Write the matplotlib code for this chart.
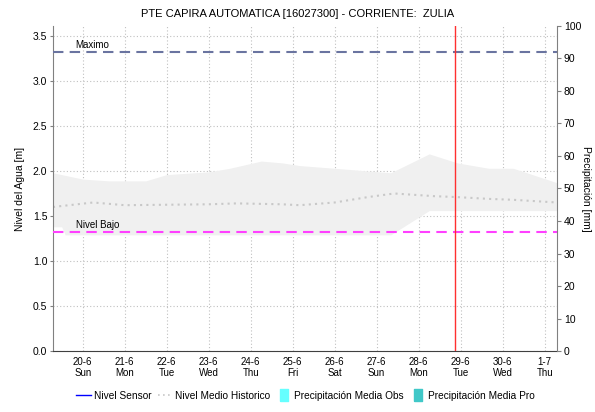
import matplotlib
matplotlib.use('Agg')
import matplotlib.pyplot as plt
from matplotlib.lines import Line2D
import pandas as pd

plt.rcParams['font.family'] = ['Liberation Sans', 'DejaVu Sans']

# historical level band (min / max) and mean level
band_upper_t = ['2021-06-19 07:00', '2021-06-20 00:00', '2021-06-20 15:00', '2021-06-21 12:00',
                '2021-06-22 00:00', '2021-06-23 00:00', '2021-06-23 12:00', '2021-06-24 06:00',
                '2021-06-24 18:00', '2021-06-25 04:00', '2021-06-26 00:00', '2021-06-27 08:00',
                '2021-06-28 06:00', '2021-06-28 22:00', '2021-06-29 16:00', '2021-06-30 06:00',
                '2021-07-01 07:00']
band_upper = [1.98, 1.91, 1.89, 1.89, 1.96, 1.99, 2.03, 2.11, 2.09, 2.06, 2.03, 1.98,
              2.19, 2.09, 2.03, 2.03, 1.87]

band_lower_t = ['2021-06-19 07:00', '2021-06-19 12:00', '2021-06-19 14:00', '2021-06-27 08:00',
                '2021-06-28 06:00', '2021-07-01 07:00']
band_lower = [1.38, 1.38, 1.29, 1.29, 1.56, 1.56]

medio_t = ['2021-06-19 07:00', '2021-06-20 06:00', '2021-06-21 00:00', '2021-06-23 00:00',
           '2021-06-23 16:00', '2021-06-24 18:00', '2021-06-25 04:00', '2021-06-26 00:00',
           '2021-06-26 19:00', '2021-06-27 10:00', '2021-06-28 09:00', '2021-06-28 22:00',
           '2021-06-29 16:00', '2021-06-30 06:00', '2021-07-01 07:00']
medio = [1.60, 1.65, 1.62, 1.63, 1.64, 1.63, 1.62, 1.65, 1.71, 1.75, 1.72, 1.71,
         1.69, 1.68, 1.65]

nivel_maximo = 3.32
nivel_bajo = 1.32
ahora = '2021-06-28 21:00'

x_start, x_end = '2021-06-19 07:00', '2021-07-01 07:00'
day_ticks = pd.date_range('2021-06-20', '2021-07-01', freq='D')
day_names = ['Sun', 'Mon', 'Tue', 'Wed', 'Thu', 'Fri', 'Sat', 'Sun', 'Mon', 'Tue', 'Wed', 'Thu']

fig = plt.figure(figsize=(5.95, 4.12), dpi=100)
ax = fig.add_axes([0.089, 0.148, 0.847, 0.789])

# band
ub = pd.Series(band_upper, index=pd.to_datetime(band_upper_t))
lb = pd.Series(band_lower, index=pd.to_datetime(band_lower_t))
grid_t = ub.index.union(lb.index)
ub_i = ub.reindex(grid_t).interpolate(method='time')
lb_i = lb.reindex(grid_t).interpolate(method='time')
ax.fill_between(grid_t, lb_i.values, ub_i.values, color='#f0f0f0', lw=0, zorder=1)

ax.plot(pd.to_datetime(medio_t), medio, color='#c8c8c8', lw=1.5, ls=(0, (1, 2)), zorder=2)

ax.axhline(nivel_maximo, color='#6a74a0', lw=1.5, ls=(0, (5, 3)), zorder=3)
ax.axhline(nivel_bajo, color='#ff40ff', lw=1.5, ls=(0, (5, 3)), zorder=3)
ax.axvline(pd.Timestamp(ahora), color='#ff3030', lw=1.0, zorder=4)

ax.text(pd.Timestamp('2021-06-19 20:00'), nivel_maximo + 0.02, 'Maximo', fontsize=7, va='bottom')
ax.text(pd.Timestamp('2021-06-19 20:00'), nivel_bajo + 0.02, 'Nivel Bajo', fontsize=7, va='bottom')

ax.set_xlim(pd.Timestamp(x_start), pd.Timestamp(x_end))
ax.set_ylim(0, 3.611)
ax.set_yticks([0, 0.5, 1.0, 1.5, 2.0, 2.5, 3.0, 3.5])
ax.set_yticklabels(['0.0', '0.5', '1.0', '1.5', '2.0', '2.5', '3.0', '3.5'], fontsize=7.5)
ax.set_xticks(day_ticks)
ax.set_xticklabels([f'{d.day}-{d.month}\n{n}' for d, n in zip(day_ticks, day_names)], fontsize=7)
ax.tick_params(axis='y', length=2, color='#808080', pad=2)
ax.tick_params(axis='x', length=0, pad=4)
ax.grid(True, color='#c0c0c0', ls=(0, (1, 2)), lw=0.8)
ax.set_axisbelow(True)
ax.set_ylabel('Nivel del Agua [m]', fontsize=7.5, labelpad=6)

for s in ['top', 'right']:
    ax.spines[s].set_visible(False)
ax.spines['left'].set_color('#808080')
ax.spines['bottom'].set_color('#404040')
ax.spines['bottom'].set_linestyle((0, (1, 1)))

ax2 = ax.twinx()
ax2.set_ylim(0, 100)
ax2.set_yticks(range(0, 101, 10))
ax2.tick_params(axis='y', labelsize=7.5, length=3, color='#808080', pad=2)
ax2.set_ylabel('Precipitación [mm]', fontsize=7.5, rotation=270, va='center')
ax2.yaxis.set_label_coords(1.058, 0.5)
for s in ['top', 'left', 'bottom']:
    ax2.spines[s].set_visible(False)
ax2.spines['right'].set_color('#808080')

fig.suptitle('PTE CAPIRA AUTOMATICA [16027300] - CORRIENTE:  ZULIA', fontsize=8, y=0.978)

# narrow upright box for the precipitation entries
box = [(-0.35, -0.6), (0.35, -0.6), (0.35, 0.6), (-0.35, 0.6), (-0.35, -0.6)]
handles = [
    Line2D([], [], color='#0000ff', lw=1),
    Line2D([], [], color='#c8c8c8', lw=1.2, ls=(0, (1, 2))),
    Line2D([], [], ls='none', marker=box, markersize=9, color='#66ffff'),
    Line2D([], [], ls='none', marker=box, markersize=9, color='#40c8c8'),
]
labels = ['Nivel Sensor', 'Nivel Medio Historico', 'Precipitación Media Obs', 'Precipitación Media Pro']
fig.legend(handles, labels, loc='center', bbox_to_anchor=(0.513, 0.04), ncol=4, frameon=False,
           fontsize=7.3, handlelength=1.5, handletextpad=0.25, columnspacing=0.6)

fig.savefig('out.png', dpi=100)
